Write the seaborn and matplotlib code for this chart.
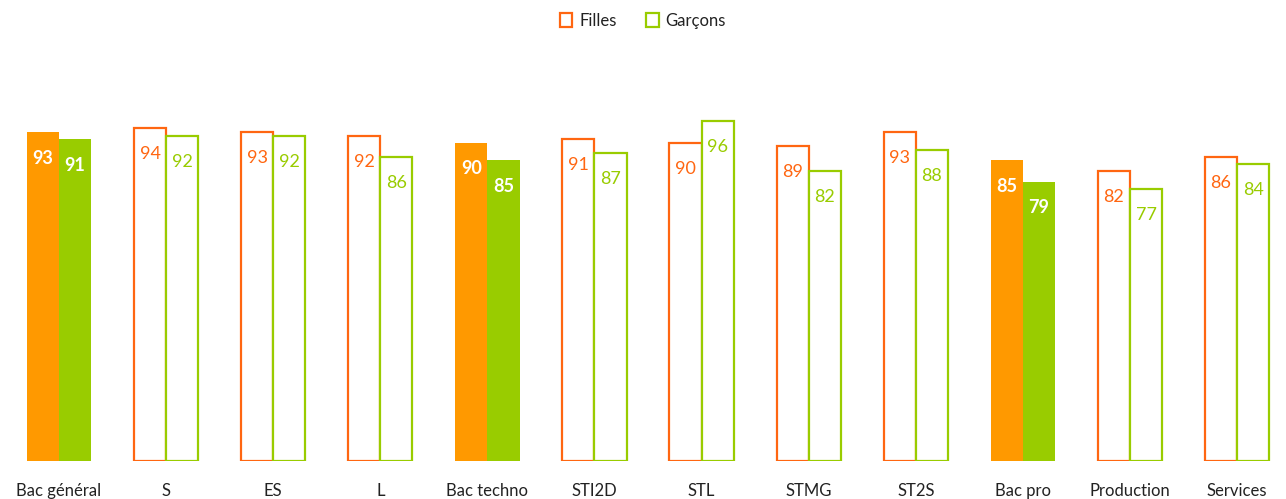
import matplotlib
matplotlib.use("Agg")
import matplotlib.pyplot as plt
from matplotlib.patches import Patch
import seaborn as sns
import pandas as pd

categories = ["Bac général", "S", "ES", "L", "Bac techno", "STI2D", "STL",
              "STMG", "ST2S", "Bac pro", "Production", "Services"]
filles = [93, 94, 93, 92, 90, 91, 90, 89, 93, 85, 82, 86]
garcons = [91, 92, 92, 86, 85, 87, 96, 82, 88, 79, 77, 84]
series = ["Filles", "Garçons"]
totals = ["Bac général", "Bac techno", "Bac pro"]

fill_colors = {"Filles": "#FF9900", "Garçons": "#99CC00"}
line_colors = {"Filles": "#FF6611", "Garçons": "#99CC00"}

df = pd.DataFrame({
    "cat": categories * 2,
    "serie": [series[0]] * len(categories) + [series[1]] * len(categories),
    "val": filles + garcons,
})

sns.set_theme(style="white")
plt.rcParams["font.family"] = ["Lato", "DejaVu Sans"]

fig = plt.figure(figsize=(12.86, 4.99), dpi=100)
ax = fig.add_axes([0.0, 0.076, 1.0, 0.78])

sns.barplot(data=df, x="cat", y="val", hue="serie", order=categories,
            hue_order=series, width=0.6, ax=ax, legend=False,
            palette=fill_colors, saturation=1)

for i, s in enumerate(series):
    cont = ax.containers[i]
    for j, bar in enumerate(cont.patches):
        cat = categories[j]
        val = df[(df.cat == cat) & (df.serie == s)].val.iloc[0]
        x = bar.get_x() + bar.get_width() / 2
        if cat in totals:
            # total rows: solid bars with white bold values
            bar.set_facecolor(fill_colors[s])
            bar.set_edgecolor(fill_colors[s])
            bar.set_linewidth(0)
            ax.annotate(f"{val}", (x, val), xytext=(0, -26), textcoords="offset pixels",
                        ha="center", va="center", color="white",
                        fontsize=13, fontweight="bold")
        else:
            # detail rows: outlined bars with coloured values
            bar.set_facecolor("white")
            bar.set_edgecolor(line_colors[s])
            bar.set_linewidth(1.6)
            ax.annotate(f"{val}", (x, val), xytext=(0, -26), textcoords="offset pixels",
                        ha="center", va="center", color=line_colors[s],
                        fontsize=13)

ax.set_ylim(0, 110)
ax.set_xlim(-0.551, 11.457)
ax.set_xlabel("")
ax.set_ylabel("")
ax.set_yticks([])
ax.tick_params(axis="x", length=0, labelsize=12, colors="#222222", pad=16)
for sp in ax.spines.values():
    sp.set_visible(False)

handles = [Patch(facecolor="white", edgecolor=line_colors[s], linewidth=1.6, label=s)
           for s in series]
fig.legend(handles=handles, loc="upper center", bbox_to_anchor=(0.5, 1.005),
           ncol=2, frameon=False, fontsize=12, handlelength=0.75,
           handleheight=0.95, handletextpad=0.4, columnspacing=1.8,
           labelcolor="#222222")

fig.savefig("out.png", dpi=100)
